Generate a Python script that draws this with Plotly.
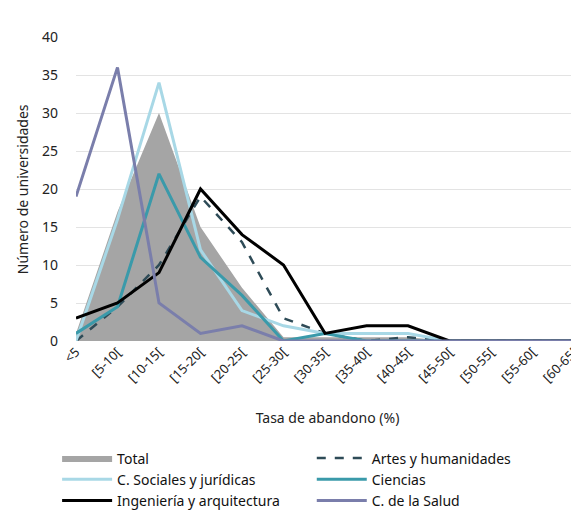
import plotly.graph_objects as go

categories = ["<5", "[5-10[", "[10-15[", "[15-20[", "[20-25[", "[25-30[", "[30-35[",
              "[35-40[", "[40-45[", "[45-50[", "[50-55[", "[55-60[", "[60-65[", "[65-70["]

total = [1, 17, 30, 15, 7, 0.5, 0.5, 0.5, 0.5, 0, 0, 0, 0, 0]
artes = [0, 4.5, 10, 19, 13, 3, 1, 0, 0.5, 0, 0, 0, 0, 0]
sociales = [0, 16, 34, 12, 4, 2, 1, 1, 1, 0, 0, 0, 0, 0]
ciencias = [1, 4.5, 22, 11, 6, 0, 1, 0, 0, 0, 0, 0, 0, 0]
ingenieria = [3, 5, 9, 20, 14, 10, 1, 2, 2, 0, 0, 0, 0, 0]
salud = [19, 36, 5, 1, 2, 0, 0, 0, 0, 0, 0, 0, 0, 0]

FONT = "Noto Sans"

fig = go.Figure()
fig.add_trace(go.Scatter(x=categories, y=total, name="Total", mode="lines",
                         fill="tozeroy", fillcolor="#a5a5a5", legend="legend",
                         line=dict(color="#a5a5a5", width=0)))
fig.add_trace(go.Scatter(x=categories, y=artes, name="Artes y humanidades", mode="lines",
                         legend="legend2",
                         line=dict(color="#2e4b57", width=2.5, dash="dash")))
fig.add_trace(go.Scatter(x=categories, y=sociales, name="C. Sociales y jurídicas", mode="lines",
                         legend="legend",
                         line=dict(color="#a8d8e6", width=3)))
fig.add_trace(go.Scatter(x=categories, y=ciencias, name="Ciencias", mode="lines",
                         legend="legend2",
                         line=dict(color="#3a9aaa", width=3)))
fig.add_trace(go.Scatter(x=categories, y=ingenieria, name="Ingeniería y arquitectura", mode="lines",
                         legend="legend",
                         line=dict(color="#000000", width=3)))
fig.add_trace(go.Scatter(x=categories, y=salud, name="C. de la Salud", mode="lines",
                         legend="legend2",
                         line=dict(color="#7a7eab", width=3)))

legend_style = dict(orientation="v", xref="container", yref="container",
                    y=0.138, xanchor="left", yanchor="top", itemwidth=50,
                    font=dict(size=14, family=FONT, color="#111111"),
                    tracegroupgap=0, bgcolor="rgba(0,0,0,0)", traceorder="normal")

fig.update_layout(
    width=571, height=504,
    margin=dict(l=68, r=0, t=29, b=171, autoexpand=False),
    paper_bgcolor="white", plot_bgcolor="white",
    font=dict(family=FONT, color="#222222", size=13),
    showlegend=True,
    legend=dict(x=0.086, **legend_style),
    legend2=dict(x=0.532, **legend_style),
    xaxis=dict(type="category", range=[0, 12.12], tickangle=-45, automargin=False,
               showgrid=False, zeroline=False, showline=False,
               ticks="", tickfont=dict(size=13),
               title=dict(text="Tasa de abandono (%)", font=dict(size=14), standoff=28)),
    yaxis=dict(range=[0, 40], dtick=5, showgrid=True, gridcolor="#e3e3e3", gridwidth=1,
               automargin=False,
               zeroline=False, showline=False, ticks="", tickfont=dict(size=14),
               ticklabelstandoff=17),
    annotations=[dict(text="Número de universidades", xref="paper", yref="paper",
                      x=-0.107, y=0.5, xanchor="center", yanchor="middle",
                      textangle=-90, showarrow=False,
                      font=dict(size=14, family=FONT, color="#222222"))],
)

fig.write_html("out.html")
